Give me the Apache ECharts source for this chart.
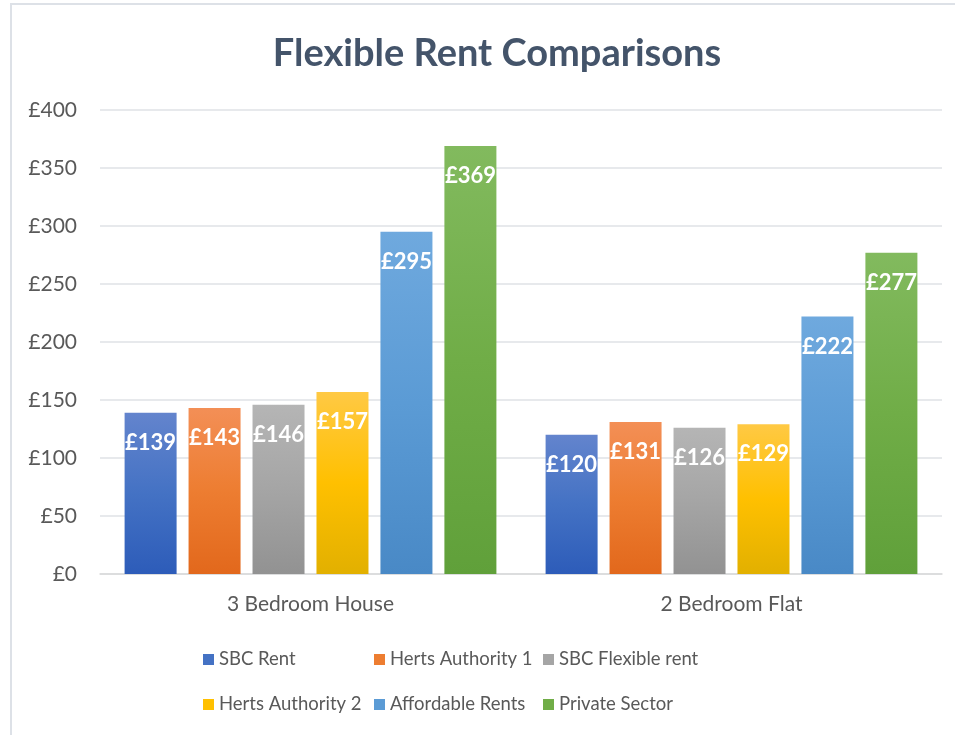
<!DOCTYPE html>
<html>
<head>
<meta charset="utf-8">
<script src="https://cdn.jsdelivr.net/npm/echarts@6/dist/echarts.min.js"></script>
<style>
  html, body { margin: 0; padding: 0; background: #fff; }
  #chart { width: 955px; height: 735px; }
</style>
</head>
<body>
<div id="chart"></div>
<script>
const categories = ['3 Bedroom House', '2 Bedroom Flat'];
const seriesNames = ['SBC Rent', 'Herts Authority 1', 'SBC Flexible rent', 'Herts Authority 2', 'Affordable Rents', 'Private Sector'];
const sbcRent = [139, 120];
const hertsAuthority1 = [143, 131];
const sbcFlexibleRent = [146, 126];
const hertsAuthority2 = [157, 129];
const affordableRents = [295, 222];
const privateSector = [369, 277];
const yTicks = { min: 0, max: 400, interval: 50 };

// top / bottom shades for each bar gradient
const shades = [
  ['#6384cd', '#2d5cb9'],
  ['#f38f56', '#e2681c'],
  ['#b5b5b5', '#929292'],
  ['#ffc944', '#e2b000'],
  ['#6fa9de', '#4989c6'],
  ['#82ba5e', '#60a03a']
];
const legendColors = ['#4472C4', '#ED7D31', '#A5A5A5', '#FFC000', '#5B9BD5', '#70AD47'];
const values = [sbcRent, hertsAuthority1, sbcFlexibleRent, hertsAuthority2, affordableRents, privateSector];

const font = 'Lato, "Open Sans", sans-serif';
const chart = echarts.init(document.getElementById('chart'));

const series = seriesNames.map((name, i) => ({
  name: name,
  type: 'bar',
  data: values[i],
  barWidth: 52,
  barGap: '23%',
  itemStyle: {
    color: {
      type: 'linear', x: 0, y: 0, x2: 0, y2: 1,
      colorStops: [
        { offset: 0, color: shades[i][0] },
        { offset: 0.5, color: legendColors[i] },
        { offset: 1, color: shades[i][1] }
      ]
    }
  },
  label: {
    show: true,
    position: 'insideTop',
    distance: 19,
    formatter: p => '£' + p.value,
    color: '#fff',
    fontWeight: 'bold',
    fontSize: 22,
    fontFamily: font
  }
}));

// legend laid out as three columns of two entries
const legendCols = [
  { left: 198, items: [0, 3] },
  { left: 369, items: [1, 4] },
  { left: 538, items: [2, 5] }
];

const option = {
  animation: false,
  color: legendColors,
  title: {
    text: 'Flexible Rent Comparisons',
    left: 492,
    textAlign: 'center',
    top: 30,
    textStyle: { fontFamily: font, fontSize: 38, fontWeight: 'bold', color: '#44546A' }
  },
  graphic: [{
    type: 'rect',
    shape: { x: 11, y: 4, width: 1000, height: 800 },
    style: { fill: 'none', stroke: '#dde1e7', lineWidth: 2 },
    silent: true
  }],
  legend: legendCols.map(c => ({
    orient: 'vertical',
    left: c.left,
    top: 645,
    itemGap: 26,
    itemWidth: 11,
    itemHeight: 11,
    icon: 'rect',
    data: c.items.map(i => ({ name: seriesNames[i], itemStyle: { color: legendColors[i] } })),
    textStyle: { fontFamily: font, fontSize: 18.5, color: '#595959' }
  })),
  grid: { left: 100, right: 13, top: 110, bottom: 161, containLabel: false },
  xAxis: {
    type: 'category',
    data: categories,
    axisLine: { lineStyle: { color: '#d9d9d9', width: 1.5 } },
    axisTick: { show: false },
    axisLabel: { fontFamily: font, fontSize: 21, color: '#595959', margin: 20 }
  },
  yAxis: {
    type: 'value',
    min: yTicks.min,
    max: yTicks.max,
    interval: yTicks.interval,
    axisLine: { show: false },
    axisTick: { show: false },
    splitLine: { lineStyle: { color: '#dfe2e6', width: 1.5 } },
    axisLabel: { fontFamily: font, fontSize: 21, color: '#595959', margin: 23, formatter: '£{value}' }
  },
  series: series
};

chart.setOption(option);
window.addEventListener('resize', () => chart.resize());
</script>
</body>
</html>
